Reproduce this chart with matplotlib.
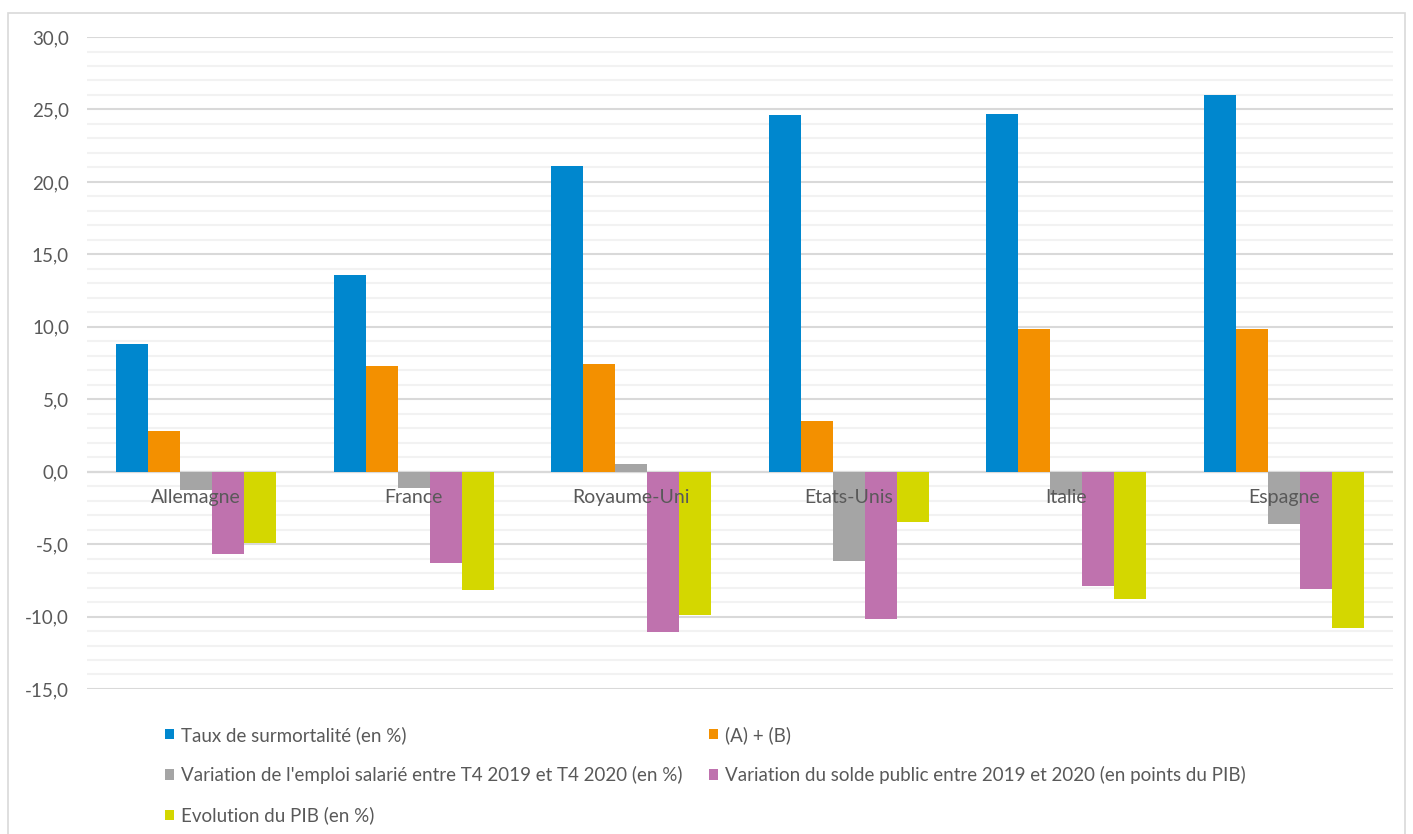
import matplotlib
matplotlib.use("Agg")
import matplotlib.pyplot as plt
import numpy as np
from matplotlib.ticker import MultipleLocator, FuncFormatter
from matplotlib.patches import Rectangle

plt.rcParams['font.family'] = ['Lato', 'DejaVu Sans']

# data
pays = ['Allemagne', 'France', 'Royaume-Uni', 'Etats-Unis', 'Italie', 'Espagne']
surmortalite = [8.8, 13.6, 21.1, 24.6, 24.7, 26.0]
a_plus_b = [2.8, 7.3, 7.45, 3.5, 9.85, 9.85]
emploi = [-1.3, -1.1, 0.55, -6.2, -1.6, -3.6]
solde_public = [-5.7, -6.3, -11.1, -10.2, -7.9, -8.1]
pib = [-4.9, -8.2, -9.9, -3.5, -8.8, -10.8]

series = [
    ('Taux de surmortalité (en %)', surmortalite, '#0087CE'),
    ('(A) + (B)', a_plus_b, '#F39000'),
    ("Variation de l'emploi salarié entre T4 2019 et T4 2020 (en %)", emploi, '#A5A5A5'),
    ('Variation du solde public entre 2019 et 2020 (en points du PIB)', solde_public, '#BF72AE'),
    ('Evolution du PIB (en %)', pib, '#D4D700'),
]

fig = plt.figure(figsize=(14.13, 8.34), dpi=100)
ax = fig.add_axes([0.0616, 0.1739, 0.9242, 0.7817])

x = np.arange(len(pays))
w = 0.147
bars = []
for k, (name, vals, col) in enumerate(series):
    b = ax.bar(x + (k - 2) * w, vals, w, color=col, label=name, zorder=3)
    bars.append(b)

ax.set_xlim(-0.5, len(pays) - 0.5)
ax.set_ylim(-15, 30)
ax.yaxis.set_major_locator(MultipleLocator(5))
ax.yaxis.set_minor_locator(MultipleLocator(1))
ax.yaxis.set_major_formatter(FuncFormatter(lambda v, p: f"{v:.1f}".replace('.', ',')))
ax.grid(axis='y', which='major', color='#d9d9d9', linewidth=1.5, zorder=0)
ax.grid(axis='y', which='minor', color='#f2f2f2', linewidth=1.5, zorder=0)
ax.axhline(0, color='#d9d9d9', linewidth=1.6, zorder=2)
ax.set_xticks([])
ax.tick_params(axis='y', which='both', length=0, pad=13, labelsize=13.5, labelcolor='#595959')
for s in ax.spines.values():
    s.set_visible(False)

for i, p in enumerate(pays):
    ax.text(i, -1.75, p, ha='center', va='center', fontsize=14, color='#595959', zorder=5)

# outer chart border
fig.patches.append(Rectangle((0.006, -0.01), 0.988, 0.995, transform=fig.transFigure,
                             fill=False, edgecolor='#d9d9d9', linewidth=1.2))

leg_kw = dict(frameon=False, fontsize=13.5, handlelength=0.5, handleheight=0.5,
              handletextpad=0.35, labelspacing=1.2, labelcolor='#595959',
              borderpad=0, loc='upper left')
fig.legend([bars[0], bars[2], bars[4]], [series[0][0], series[2][0], series[4][0]],
           bbox_to_anchor=(0.110, 0.141), **leg_kw)
fig.legend([bars[1], bars[3]], [series[1][0], series[3][0]],
           bbox_to_anchor=(0.495, 0.141), **leg_kw)

fig.savefig('out.png', dpi=100)
